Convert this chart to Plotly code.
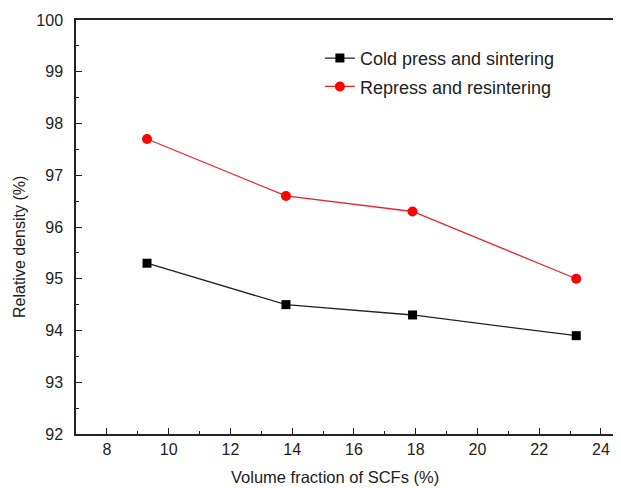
import plotly.graph_objects as go

x_vals = [9.3, 13.8, 17.9, 23.2]
cold_press = [95.3, 94.5, 94.3, 93.9]
repress = [97.7, 96.6, 96.3, 95.0]
series_names = ["Cold press and sintering", "Repress and resintering"]

# the page body adds an 8px margin, so the figure is sized to fit the window
W, H = 613, 480
ml, mr, mt, mb = 68, 0, 12, 54

fig = go.Figure()
fig.add_trace(go.Scatter(x=x_vals, y=cold_press, mode="lines+markers", name=series_names[0],
                         legendgroup="a",
                         line=dict(color="#222222", width=1.3),
                         marker=dict(symbol="square", size=9, color="#000000")))
fig.add_trace(go.Scatter(x=x_vals, y=repress, mode="lines+markers", name=series_names[1],
                         legendgroup="b",
                         line=dict(color="#e8262a", width=1.3),
                         marker=dict(symbol="circle", size=10, color="#ff0000")))

font = "Liberation Sans, Arial, sans-serif"
fig.update_layout(
    width=W, height=H,
    margin=dict(l=ml, r=mr, t=mt, b=mb, autoexpand=False),
    paper_bgcolor="white", plot_bgcolor="white",
    font=dict(family=font, size=16, color="#222222"),
    showlegend=True,
    legend=dict(x=0.4475, y=0.952, xanchor="left", yanchor="top", bgcolor="rgba(0,0,0,0)",
                font=dict(size=18, color="#222222"), itemwidth=30, tracegroupgap=2),
    xaxis=dict(range=[7, 24.65], tickmode="linear", tick0=0, dtick=2, automargin=False,
               showgrid=False, zeroline=False, showline=True, linecolor="#222222", linewidth=1.5,
               mirror=True, ticks="inside", ticklen=6, tickwidth=1.2, tickcolor="#222222",
               minor=dict(dtick=1, tick0=0, ticks="inside", ticklen=3, tickwidth=1.2, tickcolor="#222222"),
               tickfont=dict(size=16)),
    yaxis=dict(range=[92, 100], tickmode="linear", tick0=0, dtick=1, automargin=False,
               showgrid=False, zeroline=False, showline=True, linecolor="#222222", linewidth=1.5,
               mirror=False, ticks="inside", ticklen=6, tickwidth=1.2, tickcolor="#222222",
               minor=dict(dtick=0.5, ticks="inside", ticklen=3, tickwidth=1.2, tickcolor="#222222"),
               tickfont=dict(size=16), ticklabelstandoff=8),
    annotations=[
        dict(text="Volume fraction of SCFs (%)", xref="paper", yref="paper",
             x=0.475, y=0, yshift=-43, xanchor="center", yanchor="middle",
             showarrow=False, font=dict(size=16.5)),
        dict(text="Relative density (%)", xref="paper", yref="paper", textangle=-90,
             x=0, xshift=-57, y=0.5, yshift=-20, xanchor="center", yanchor="middle",
             showarrow=False, font=dict(size=16)),
    ],
)

fig.write_html("out.html")
